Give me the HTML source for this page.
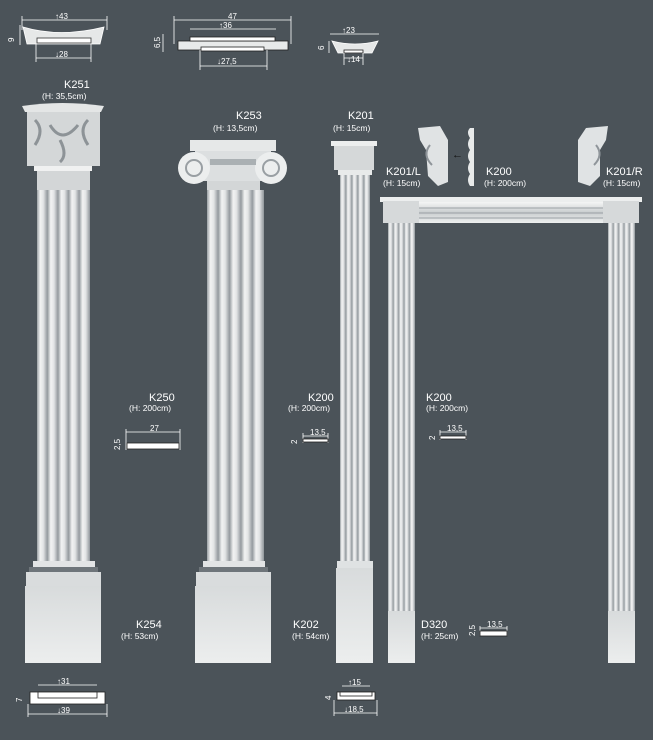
<!DOCTYPE html>
<html><head><meta charset="utf-8"><style>
html,body{margin:0;padding:0;background:#4b5359;}
svg{display:block}
text{font-family:"Liberation Sans",sans-serif;fill:#fff}
.l{font-size:11px}.s{font-size:8.5px}.d{font-size:8px}
</style></head><body>
<svg width="653" height="740" viewBox="0 0 653 740" xmlns="http://www.w3.org/2000/svg">
<defs>
<linearGradient id="fl" x1="0" x2="1" y1="0" y2="0">
<stop offset="0" stop-color="#9aa0a4"/><stop offset="0.3" stop-color="#f2f3f3"/><stop offset="0.6" stop-color="#e2e4e5"/><stop offset="1" stop-color="#8f959a"/>
</linearGradient>
<pattern id="p1" width="10.6" height="10" patternUnits="userSpaceOnUse" x="37"><rect width="10.6" height="10" fill="url(#fl)"/></pattern>
<pattern id="p2" width="11.4" height="10" patternUnits="userSpaceOnUse" x="207"><rect width="11.4" height="10" fill="url(#fl)"/></pattern>
<pattern id="p3" width="6" height="10" patternUnits="userSpaceOnUse" x="340"><rect width="6" height="10" fill="url(#fl)"/></pattern>
<pattern id="p4" width="5.4" height="10" patternUnits="userSpaceOnUse" x="388"><rect width="5.4" height="10" fill="url(#fl)"/></pattern>
<pattern id="p5" width="5.4" height="10" patternUnits="userSpaceOnUse" x="608"><rect width="5.4" height="10" fill="url(#fl)"/></pattern>
<linearGradient id="pl" x1="0" x2="0" y1="0" y2="1"><stop offset="0" stop-color="#d8dbdc"/><stop offset="1" stop-color="#eceeee"/></linearGradient>
<linearGradient id="lt" x1="0" x2="0" y1="0" y2="1"><stop offset="0" stop-color="#f4f5f5"/><stop offset="0.5" stop-color="#c9cdcf"/><stop offset="1" stop-color="#eef0f0"/></linearGradient>
</defs>

<!-- top profile drawings -->
<g stroke="#fff" stroke-width="0.8" fill="none">
<path d="M23 27 Q60 38 104 27 L100 44 L27 44 Z" fill="#e6e8e8"/>
<rect x="37" y="38" width="54" height="5" fill="#fff" stroke="#333"/>
<line x1="22" y1="20" x2="107" y2="20"/><line x1="22" y1="16" x2="22" y2="30"/><line x1="107" y1="16" x2="107" y2="30"/>
<line x1="36" y1="58" x2="91" y2="58"/><line x1="36" y1="44" x2="36" y2="62"/><line x1="91" y1="44" x2="91" y2="62"/>
<line x1="20" y1="25" x2="20" y2="45"/>
<rect x="178" y="41" width="110" height="9" fill="#e8eaea" stroke="#222"/>
<rect x="190" y="37" width="85" height="4" fill="#fff" stroke="#222"/>
<rect x="201" y="47" width="63" height="4" fill="#fff" stroke="#222"/>
<line x1="174" y1="20" x2="291" y2="20"/><line x1="174" y1="16" x2="174" y2="44"/><line x1="291" y1="16" x2="291" y2="44"/>
<line x1="190" y1="29" x2="276" y2="29"/>
<line x1="200" y1="66" x2="267" y2="66"/><line x1="200" y1="50" x2="200" y2="70"/><line x1="267" y1="50" x2="267" y2="70"/>
<line x1="163" y1="34" x2="163" y2="52"/>
<path d="M332 41 Q355 47 378 41 L372 53 L338 53 Z" fill="#e6e8e8"/>
<rect x="344" y="50" width="19" height="3" fill="#fff" stroke="#222"/>
<line x1="330" y1="34" x2="379" y2="34"/><line x1="344" y1="58" x2="363" y2="58"/><line x1="344" y1="53" x2="344" y2="65"/><line x1="363" y1="53" x2="363" y2="65"/>
<line x1="329" y1="41" x2="329" y2="53"/>
</g>
<text class="d" x="55" y="19">↑43</text><text class="d" x="55" y="57">↓28</text>
<text class="d" x="8" y="40" transform="rotate(-90 12 38)">9</text>
<text class="d" x="228" y="19">47</text><text class="d" x="219" y="28">↑36</text><text class="d" x="217" y="64">↓27,5</text>
<text class="d" x="152" y="48" transform="rotate(-90 156 44)">6,5</text>
<text class="d" x="342" y="33">↑23</text><text class="d" x="347" y="62">↓14</text>
<text class="d" x="317" y="49" transform="rotate(-90 321 46)">6</text>

<!-- labels -->
<text class="l" x="64" y="88">K251</text><text class="s" x="42" y="99">(H: 35,5cm)</text>
<text class="l" x="236" y="119">K253</text><text class="s" x="213" y="131">(H: 13,5cm)</text>
<text class="l" x="348" y="119">K201</text><text class="s" x="333" y="131">(H: 15cm)</text>
<text class="l" x="386" y="175">K201/L</text><text class="s" x="383" y="186">(H: 15cm)</text>
<text class="l" x="486" y="175">K200</text><text class="s" x="484" y="186">(H: 200cm)</text>
<text class="l" x="606" y="175">K201/R</text><text class="s" x="603" y="186">(H: 15cm)</text>
<text class="l" x="149" y="401">K250</text><text class="s" x="129" y="411">(H: 200cm)</text>
<text class="l" x="308" y="401">K200</text><text class="s" x="288" y="411">(H: 200cm)</text>
<text class="l" x="426" y="401">K200</text><text class="s" x="426" y="411">(H: 200cm)</text>
<text class="l" x="136" y="628">K254</text><text class="s" x="121" y="639">(H: 53cm)</text>
<text class="l" x="293" y="628">K202</text><text class="s" x="292" y="639">(H: 54cm)</text>
<text class="l" x="421" y="628">D320</text><text class="s" x="421" y="639">(H: 25cm)</text>

<!-- small profiles mid -->
<g stroke="#fff" stroke-width="0.8" fill="none">
<line x1="126" y1="432" x2="180" y2="432"/><line x1="126" y1="429" x2="126" y2="450"/><line x1="180" y1="429" x2="180" y2="450"/>
<rect x="127" y="443" width="52" height="6" fill="#fff" stroke="#222"/>
<line x1="303" y1="436" x2="328" y2="436"/><line x1="303" y1="433" x2="303" y2="443"/><line x1="328" y1="433" x2="328" y2="443"/>
<rect x="303" y="439" width="25" height="3" fill="#fff" stroke="#222"/>
<line x1="440" y1="432" x2="466" y2="432"/><line x1="440" y1="430" x2="440" y2="440"/><line x1="466" y1="430" x2="466" y2="440"/>
<rect x="440" y="436" width="26" height="3" fill="#fff" stroke="#222"/>
<line x1="480" y1="628" x2="507" y2="628"/><line x1="480" y1="626" x2="480" y2="636"/><line x1="507" y1="626" x2="507" y2="636"/>
<rect x="480" y="631" width="27" height="5" fill="#fff" stroke="#222"/>
</g>
<text class="d" x="150" y="431">27</text><text class="d" x="310" y="435">13,5</text><text class="d" x="447" y="431">13,5</text><text class="d" x="487" y="627">13,5</text>
<text class="d" x="112" y="450" transform="rotate(-90 116 446)">2,5</text>
<text class="d" x="290" y="443" transform="rotate(-90 294 440)">2</text>
<text class="d" x="428" y="439" transform="rotate(-90 432 436)">2</text>
<text class="d" x="467" y="636" transform="rotate(-90 471 632)">2,5</text>

<!-- bottom profiles -->
<g stroke="#fff" stroke-width="0.8" fill="none">
<rect x="30" y="692" width="75" height="12" fill="#fff" stroke="#222"/>
<rect x="38" y="692" width="59" height="6" fill="#fff" stroke="#222"/>
<line x1="38" y1="685" x2="97" y2="685"/><line x1="28" y1="714" x2="107" y2="714"/><line x1="28" y1="704" x2="28" y2="717"/><line x1="107" y1="704" x2="107" y2="717"/>
<rect x="337" y="692" width="38" height="8" fill="#fff" stroke="#222"/>
<rect x="340" y="692" width="32" height="4" fill="#fff" stroke="#222"/>
<line x1="342" y1="686" x2="370" y2="686"/><line x1="334" y1="713" x2="377" y2="713"/><line x1="334" y1="700" x2="334" y2="716"/><line x1="377" y1="700" x2="377" y2="716"/>
</g>
<text class="d" x="57" y="684">↑31</text><text class="d" x="57" y="713">↓39</text><text class="d" x="14" y="702" transform="rotate(-90 18 698)">7</text>
<text class="d" x="348" y="685">↑15</text><text class="d" x="344" y="712">↓18,5</text><text class="d" x="323" y="700" transform="rotate(-90 327 696)">4</text>

<!-- Column 1 -->
<path d="M22 106 Q62 100 104 106 L101 112 L25 112 Z" fill="#e4e6e6"/>
<rect x="27" y="112" width="73" height="54" fill="#d4d7d8"/>
<path d="M35 120 q10 10 0 25 M50 125 q12 20 28 0 M60 140 q8 15 0 22 M88 120 q-10 10 0 25" stroke="#8d9397" stroke-width="3" fill="none"/>
<rect x="34" y="166" width="58" height="5" fill="#f0f1f1"/>
<rect x="37" y="171" width="53" height="20" fill="#d3d6d7"/>
<rect x="37" y="190" width="53" height="371" fill="url(#p1)"/>
<rect x="33" y="561" width="62" height="6" fill="#e2e4e5"/>
<rect x="29" y="567" width="69" height="5" fill="#6e757a"/>
<rect x="26" y="572" width="75" height="14" fill="#d9dcdd"/>
<rect x="25" y="586" width="76" height="77" fill="url(#pl)"/>

<!-- Column 2 -->
<rect x="190" y="140" width="86" height="11" fill="#e6e8e8"/>
<rect x="195" y="151" width="76" height="30" fill="#dcdfe0"/>
<circle cx="194" cy="168" r="16" fill="#eceeee"/><circle cx="194" cy="168" r="8" fill="none" stroke="#999fa3" stroke-width="2"/>
<circle cx="271" cy="168" r="16" fill="#eceeee"/><circle cx="271" cy="168" r="8" fill="none" stroke="#999fa3" stroke-width="2"/>
<rect x="210" y="159" width="46" height="6" fill="#aab0b3"/>
<rect x="207" y="181" width="53" height="10" fill="#d3d6d7"/>
<rect x="207" y="190" width="57" height="371" fill="url(#p2)"/>
<rect x="203" y="561" width="62" height="6" fill="#e2e4e5"/>
<rect x="199" y="567" width="69" height="5" fill="#6e757a"/>
<rect x="196" y="572" width="75" height="14" fill="#d9dcdd"/>
<rect x="195" y="586" width="76" height="77" fill="url(#pl)"/>

<!-- Column 3 -->
<rect x="331" y="141" width="46" height="5" fill="#eceeee"/>
<rect x="334" y="146" width="40" height="24" fill="#d5d8d9"/>
<rect x="338" y="170" width="34" height="5" fill="#e8eaea"/>
<rect x="340" y="175" width="30" height="386" fill="url(#p3)"/>
<rect x="337" y="561" width="36" height="7" fill="#dfe2e3"/>
<rect x="336" y="568" width="37" height="95" fill="url(#pl)"/>

<!-- K201/L / K200 / K201/R details -->
<path d="M418 128 L440 126 L448 140 L448 182 L438 186 L428 176 L426 150 L420 140 Z" fill="#e0e3e4"/>
<path d="M430 145 q-8 10 2 20" stroke="#8f959a" stroke-width="2" fill="none"/>
<path d="M470 128 L474 128 L474 186 L470 186 Q466 180 470 174 Q466 168 470 162 Q466 156 470 150 Q466 144 470 138 Q466 132 470 128Z" fill="#e8eaea"/>
<text x="452" y="158" style="font-size:11px;fill:#111">←</text>
<path d="M608 126 L586 128 L578 140 L578 182 L590 186 L600 176 L600 150 L606 140 Z" fill="#e0e3e4"/>
<path d="M596 145 q8 10 -2 20" stroke="#8f959a" stroke-width="2" fill="none"/>

<!-- Door frame -->
<rect x="380" y="197" width="262" height="5" fill="#eceeee"/>
<rect x="384" y="202" width="254" height="21" fill="url(#lt)"/>
<line x1="416" y1="208" x2="606" y2="208" stroke="#9aa0a4"/><line x1="416" y1="213" x2="606" y2="213" stroke="#9aa0a4"/><line x1="416" y1="218" x2="606" y2="218" stroke="#9aa0a4"/>
<rect x="383" y="201" width="36" height="22" fill="#d6d9da"/>
<rect x="603" y="201" width="36" height="22" fill="#d6d9da"/>
<rect x="388" y="223" width="27" height="388" fill="url(#p4)"/>
<rect x="388" y="611" width="27" height="52" fill="url(#pl)"/>
<rect x="608" y="223" width="27" height="388" fill="url(#p5)"/>
<rect x="608" y="611" width="27" height="52" fill="url(#pl)"/>
</svg>
</body></html>
